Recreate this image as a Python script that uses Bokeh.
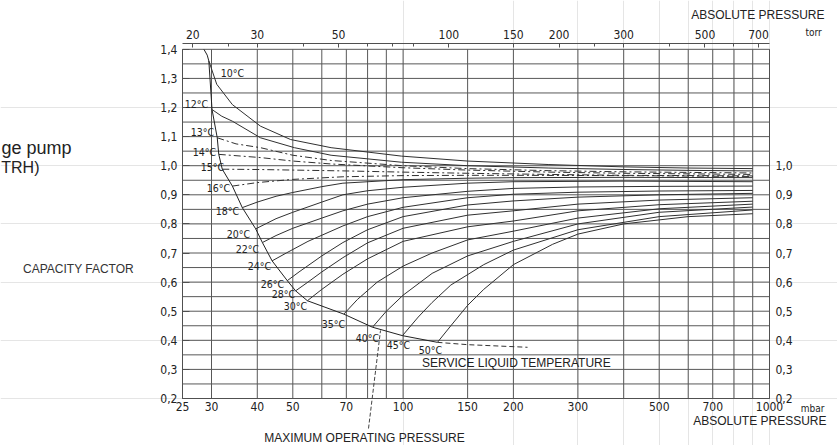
import math
from bokeh.plotting import figure
from bokeh.models import (Range1d, LinearAxis, FixedTicker, Label, Arrow,
                          CustomJSTickFormatter, LogScale)
from bokeh.embed import file_html
from bokeh.resources import INLINE

# ---------------- data ----------------
TEMPS = [10, 12, 13, 14, 15, 16, 18, 20, 22, 24, 26, 28, 30, 35, 40, 45, 50]

# maximum operating pressure envelope: start point of each temperature curve
ENV_P = [29.5, 30.1, 31.1, 31.4, 32.1, 34.2, 36.4, 39.6, 41.3, 43.9, 48.3, 50.9, 54.8, 68.9, 82.5, 99.6, 124.1]
ENV_F = [1.36, 1.193, 1.096, 1.039, 0.988, 0.930, 0.856, 0.783, 0.736, 0.673, 0.605, 0.570, 0.536, 0.490, 0.445, 0.416, 0.393]
ENV_TOP_P = [28.6, 29.2]
ENV_TOP_F = [1.40, 1.38]
ENV_TAIL_P = [124.1, 150, 218.6]
ENV_TAIL_F = [0.393, 0.385, 0.376]

# continuation of each curve after its start point (mbar, capacity factor)
P10 = [31, 34.2, 40.8, 49.3, 63.6, 99, 150, 250, 400, 600, 900]
F10 = [1.28, 1.21, 1.136, 1.09, 1.062, 1.033, 1.016, 1.004, 0.996, 0.992, 0.99]
P12 = [32, 34.2, 40.8, 50.5, 63.6, 99, 150, 250, 400, 600, 900]
F12 = [1.17, 1.153, 1.096, 1.062, 1.036, 1.012, 1.0, 0.992, 0.987, 0.984, 0.982]
P13 = [35, 40.8, 50, 63.6, 100, 150, 250, 400, 600, 900]
F13 = [1.075, 1.062, 1.036, 1.018, 1.0, 0.99, 0.983, 0.979, 0.977, 0.975]
P14 = [40.8, 50, 63.6, 100, 150, 250, 400, 600, 900]
F14 = [1.028, 1.016, 1.006, 0.993, 0.985, 0.978, 0.974, 0.972, 0.97]
P15 = [40, 50, 70, 100, 150, 250, 400, 600, 900]
F15 = [0.987, 0.985, 0.982, 0.978, 0.974, 0.97, 0.967, 0.966, 0.965]
P16 = [40, 50, 68.5, 100, 150, 200, 400, 900]
F16 = [0.942, 0.953, 0.962, 0.966, 0.967, 0.967, 0.966, 0.963]
P18 = [40, 45, 50, 60, 68.5, 100, 150, 200, 400, 900]
F18 = [0.875, 0.895, 0.908, 0.928, 0.94, 0.952, 0.957, 0.959, 0.96, 0.959]
P20 = [45, 50, 60, 68.5, 80, 100, 150, 200, 400, 900]
F20 = [0.818, 0.84, 0.875, 0.9, 0.914, 0.926, 0.94, 0.945, 0.947, 0.945]
P22 = [45, 50, 60, 68.5, 80, 100, 150, 200, 300, 500, 900]
F22 = [0.76, 0.785, 0.82, 0.845, 0.868, 0.89, 0.912, 0.922, 0.927, 0.929, 0.93]
P24 = [48, 55, 68.5, 80, 100, 150, 200, 300, 500, 900]
F24 = [0.7, 0.74, 0.793, 0.825, 0.857, 0.89, 0.902, 0.909, 0.913, 0.915]
P26 = [52, 60, 68.5, 80, 100, 150, 200, 300, 500, 900]
F26 = [0.635, 0.69, 0.736, 0.78, 0.825, 0.865, 0.879, 0.892, 0.9, 0.905]
P28 = [55, 60, 68.5, 80, 100, 150, 200, 300, 500, 900]
F28 = [0.6, 0.635, 0.684, 0.735, 0.785, 0.83, 0.845, 0.868, 0.882, 0.89]
P30 = [60, 68.5, 80, 100, 150, 200, 300, 500, 900]
F30 = [0.575, 0.627, 0.68, 0.74, 0.79, 0.81, 0.845, 0.866, 0.878]
P35 = [75, 85, 100, 120, 150, 200, 300, 500, 900]
F35 = [0.54, 0.6, 0.655, 0.7, 0.745, 0.775, 0.82, 0.852, 0.868]
P40 = [90, 100, 120, 150, 200, 300, 500, 900]
F40 = [0.5, 0.555, 0.63, 0.69, 0.74, 0.8, 0.84, 0.858]
P45 = [110, 120, 135, 166, 200, 300, 500, 900]
F45 = [0.48, 0.53, 0.59, 0.66, 0.71, 0.78, 0.825, 0.848]
P50 = [135, 150, 166, 200, 256, 300, 400, 600, 900]
F50 = [0.45, 0.52, 0.575, 0.66, 0.73, 0.765, 0.8, 0.825, 0.835]

CURVES_P = [P10, P12, P13, P14, P15, P16, P18, P20, P22, P24, P26, P28, P30, P35, P40, P45, P50]
CURVES_F = [F10, F12, F13, F14, F15, F16, F18, F20, F22, F24, F26, F28, F30, F35, F40, F45, F50]

BOTTOM_TICKS = [25, 30, 40, 50, 70, 100, 150, 200, 300, 500, 700, 1000]
TORR_TICKS = [20, 30, 50, 100, 150, 200, 300, 500, 700]
TORR_MINOR = [25, 40, 60, 70, 80, 250, 400, 600]
LEFT_TICKS = [0.2, 0.3, 0.4, 0.5, 0.6, 0.7, 0.8, 0.9, 1.0, 1.1, 1.2, 1.3, 1.4]
RIGHT_TICKS = [0.2, 0.3, 0.4, 0.5, 0.6, 0.7, 0.8, 0.9, 1.0]
GRID_X = [25, 30, 40, 50, 60, 70, 80, 90, 100, 150, 200, 300, 400, 500, 600, 700, 800, 900, 1000]
GRID_Y = [0.2, 0.25, 0.3, 0.35, 0.4, 0.45, 0.5, 0.55, 0.6, 0.65, 0.7, 0.75, 0.8, 0.85, 0.9,
          0.95, 1.0, 1.05, 1.1, 1.15, 1.2, 1.25, 1.3, 1.35, 1.4]
P_MIN, P_MAX = 25, 1000          # mbar span of the chart
F_MIN, F_MAX = 0.2, 1.4          # capacity factor span of the chart
MBAR_TO_TORR = 0.750062

# ---------------- layout: the frame fills the whole canvas ----------------
W, H = 837, 445
PX_L, PX_R = 182, 769     # pixel columns of 25 and 1000 mbar
PX_T, PX_B = 43, 398      # pixel rows of the top axis line (1.42) and of 0.2
TOP_F = 1.42
LOGSPAN = math.log10(P_MAX / P_MIN)


def dx(px):
    return P_MIN * 10 ** ((px - PX_L) / (PX_R - PX_L) * LOGSPAN)


def dy(py):
    return TOP_F - (py - PX_T) / (PX_B - PX_T) * (TOP_F - F_MIN)


NARROW = "DejaVu Sans Condensed"
SANS = "Liberation Sans"
INK = "#222222"
GRID = "#585858"
AX = "#505050"

p = figure(width=W, height=H, x_axis_type="log", x_range=Range1d(dx(0), dx(W)),
           y_range=Range1d(dy(H), dy(0)), x_axis_location=None, y_axis_location=None,
           output_backend="svg", toolbar_location=None, min_border=0,
           min_border_left=0, min_border_right=0, min_border_top=0, min_border_bottom=0)
p.outline_line_color = None
p.background_fill_color = "white"
p.border_fill_color = "white"
p.extra_x_ranges = {"torr": Range1d(dx(0) * MBAR_TO_TORR, dx(W) * MBAR_TO_TORR)}
p.extra_x_scales = {"torr": LogScale()}

# grid lines
p.segment(x0=GRID_X, y0=F_MIN, x1=GRID_X, y1=F_MAX, line_color=GRID, line_width=1)
p.segment(x0=P_MIN, y0=GRID_Y, x1=P_MAX, y1=GRID_Y, line_color=GRID, line_width=1)

comma = CustomJSTickFormatter(code="return tick.toFixed(1).replace('.', ',');")


def style(ax, standoff):
    ax.axis_line_color = AX
    ax.major_tick_line_color = AX
    ax.minor_tick_line_color = AX
    ax.major_tick_out = 0
    ax.major_tick_in = 0
    ax.minor_tick_out = 0
    ax.minor_tick_in = 0
    ax.major_label_text_font = NARROW
    ax.major_label_text_font_size = "12px"
    ax.major_label_text_color = INK
    ax.major_label_standoff = standoff


left = LinearAxis(ticker=FixedTicker(ticks=LEFT_TICKS), formatter=comma,
                  fixed_location=P_MIN, bounds=(F_MIN, F_MAX))
style(left, 5)
left.major_tick_in = 7
p.add_layout(left, "left")

right = LinearAxis(ticker=FixedTicker(ticks=RIGHT_TICKS), formatter=comma,
                   fixed_location=P_MAX, bounds=(F_MIN, F_MAX))
style(right, 6)
p.add_layout(right, "right")

bottom = LinearAxis(ticker=FixedTicker(ticks=BOTTOM_TICKS), fixed_location=F_MIN,
                    bounds=(P_MIN, P_MAX))
style(bottom, 3)
p.add_layout(bottom, "below")

top = LinearAxis(x_range_name="torr", ticker=FixedTicker(ticks=TORR_TICKS, minor_ticks=TORR_MINOR),
                 fixed_location=TOP_F, bounds=(P_MIN * MBAR_TO_TORR, P_MAX * MBAR_TO_TORR))
style(top, 5)
top.major_tick_in = 4
top.minor_tick_in = 3
p.add_layout(top, "above")

# ---------------- curves ----------------
for i, t in enumerate(TEMPS):
    xs = [ENV_P[i]] + CURVES_P[i]
    ys = [ENV_F[i]] + CURVES_F[i]
    dash = "7 3 2 3" if 13 <= t <= 16 else "solid"
    p.line(xs, ys, line_color="#303030", line_width=1, line_dash=dash)

p.line(ENV_TOP_P + ENV_P, ENV_TOP_F + ENV_F, line_color="#222222", line_width=1)
p.line(ENV_TAIL_P, ENV_TAIL_F, line_color="#333333", line_width=1, line_dash="5 3")

# temperature labels (pixel centres in the picture)
LABEL_XY = [(232, 72), (196, 103), (202, 131), (204, 151), (212, 166), (218, 187), (227, 210),
            (238, 233), (247, 248), (259, 265), (272, 283), (283, 293), (295, 305), (333, 323),
            (367, 337), (398, 344), (430, 349)]
for t, (lx, ly) in zip(TEMPS, LABEL_XY):
    p.add_layout(Label(x=dx(lx), y=dy(ly), text=f"{t}°C", text_font=NARROW, text_font_size="10.5px",
                       text_align="center", text_baseline="middle", text_color=INK))


def txt(s, ix, iy, size="12px", font=SANS, align="center", color=INK):
    p.add_layout(Label(x=dx(ix), y=dy(iy), text=s, text_font=font, text_font_size=size,
                       text_align=align, text_baseline="middle", text_color=color))


txt("SERVICE LIQUID TEMPERATURE", 516, 362)
txt("MAXIMUM OPERATING PRESSURE", 364, 437)
txt("ABSOLUTE PRESSURE", 826, 420, align="right")
txt("ABSOLUTE PRESSURE", 824, 14, align="right")
txt("CAPACITY FACTOR", 78, 268, color="#333333")
txt("mbar", 812, 408, size="10px", font=NARROW)
txt("torr", 813, 32, size="10px", font=NARROW)
txt("ge pump", 71, 147, size="18px", align="right")
txt("TRH)", 39, 167, size="16px", align="right")

p.add_layout(Arrow(end=None, x_start=dx(368), y_start=dy(428), x_end=dx(380), y_end=dy(330),
                   line_color="#444444", line_width=1, line_dash="4 2"))

open("out.html", "w").write(file_html(p, INLINE))
